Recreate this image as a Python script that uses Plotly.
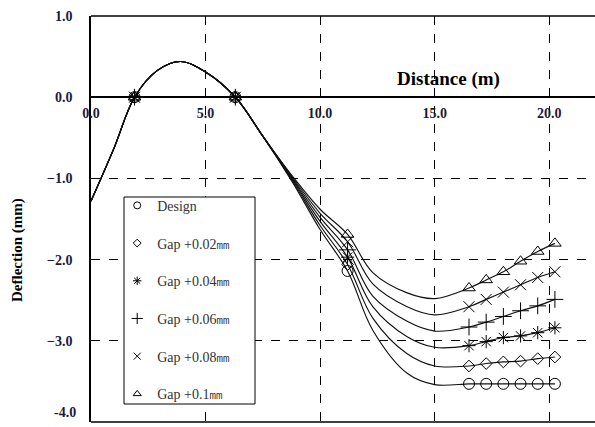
import plotly.graph_objects as go

# ---- data ----
distance = [0, 1.0, 1.9, 2.9, 3.9, 5.0, 6.3, 7.5, 8.8, 10.0, 11.2, 12.3, 13.8, 15.0,
            16.5, 17.25, 18.0, 18.75, 19.5, 20.25]
common = [-1.28, -0.63, 0.0, 0.33, 0.44, 0.31, 0.0, -0.48]

series_names = ["Design", "Gap +0.02㎜", "Gap +0.04㎜", "Gap +0.06㎜", "Gap +0.08㎜", "Gap +0.1㎜"]
design = common + [-1.05, -1.63, -2.14, -2.87, -3.40, -3.54, -3.53, -3.53, -3.53, -3.53, -3.53, -3.53]
gap_002 = common + [-1.035, -1.58, -2.06, -2.72, -3.16, -3.31, -3.31, -3.28, -3.26, -3.25, -3.22, -3.20]
gap_004 = common + [-1.02, -1.53, -1.97, -2.58, -2.95, -3.08, -3.06, -3.01, -2.96, -2.94, -2.90, -2.84]
gap_006 = common + [-1.005, -1.48, -1.88, -2.45, -2.76, -2.88, -2.83, -2.77, -2.70, -2.63, -2.57, -2.49]
gap_008 = common + [-0.99, -1.43, -1.78, -2.30, -2.58, -2.68, -2.58, -2.49, -2.40, -2.31, -2.22, -2.15]
gap_010 = common + [-0.975, -1.38, -1.69, -2.16, -2.41, -2.48, -2.35, -2.25, -2.15, -2.02, -1.90, -1.80]
series_values = [design, gap_002, gap_004, gap_006, gap_008, gap_010]
marker_index = [2, 6, 10, 14, 15, 16, 17, 18, 19]

x_ticks = [0, 5, 10, 15, 20]
y_ticks = [1, 0, -1, -2, -3, -4]

symbols = ["circle-open", "diamond-open", "asterisk-open", "cross-thin-open", "x-thin-open", "triangle-up-open"]
sizes = [11, 9, 11, 12, 11, 11]
legend_sizes = [7, 6, 7, 8, 7, 7]

fig = go.Figure()
serif = "Liberation Serif, Times New Roman, serif"

for vals in series_values:
    fig.add_trace(go.Scatter(x=distance, y=vals, mode="lines",
                             line=dict(color="#111", width=1.15, shape="spline", smoothing=1.0),
                             showlegend=False, hoverinfo="skip"))
for name, vals, sym, sz in zip(series_names, series_values, symbols, sizes):
    fig.add_trace(go.Scatter(x=[distance[i] for i in marker_index],
                             y=[vals[i] for i in marker_index],
                             mode="markers", name=name, showlegend=False,
                             marker=dict(symbol=sym, size=sz, color="black",
                                         line=dict(color="#222", width=1))))
# legend-only entries (small symbols as in the reference legend)
for name, sym, lsz in zip(series_names, symbols, legend_sizes):
    fig.add_trace(go.Scatter(x=[None], y=[None], mode="markers", name=name, legendgroup=name,
                             marker=dict(symbol=sym, size=lsz, color="black",
                                         line=dict(color="#333", width=1))))

fig.update_layout(
    width=595, height=427,
    margin=dict(l=91, r=0, t=16, b=5),
    paper_bgcolor="white", plot_bgcolor="white",
    font=dict(family=serif, color="black"),
    xaxis=dict(range=[0, 22], tickvals=x_ticks, tickformat=".1f",
               showgrid=True, gridcolor="black", gridwidth=1, griddash="dash",
               zeroline=False, showline=True, linecolor="black", linewidth=1.5,
               anchor="free", position=0.8, ticks="", ticklabelstandoff=3,
               tickfont=dict(family=serif, size=14, color="#1a1a3a", weight="bold")),
    yaxis=dict(range=[-4, 1], tickvals=y_ticks[:-1], tickformat=".1f",
               showgrid=True, gridcolor="black", gridwidth=1, griddash="dash",
               zeroline=False, showline=True, linecolor="black", linewidth=1.5,
               ticks="", ticklabelstandoff=14,
               tickfont=dict(family=serif, size=14, color="#1a1a3a", weight="bold")),
    legend=dict(x=0.052, y=0.572, xanchor="left", yanchor="top",
                bgcolor="rgba(0,0,0,0)", borderwidth=0,
                tracegroupgap=16.5, itemwidth=30,
                font=dict(family=serif, size=14, color="#333")),
    showlegend=True,
)

# frame lines and legend box
fig.add_shape(type="line", xref="paper", yref="paper", x0=0, x1=1, y0=1, y1=1,
              line=dict(color="black", width=1.5))
fig.add_shape(type="line", xref="paper", yref="paper", x0=0, x1=1, y0=0, y1=0,
              line=dict(color="black", width=1.5))
fig.add_shape(type="rect", xref="paper", yref="paper",
              x0=(124 - 91) / 504, x1=(255 - 91) / 504,
              y0=(422 - 404) / 406, y1=(422 - 197) / 406,
              line=dict(color="black", width=1), fillcolor="white", layer="above")

fig.add_annotation(text="Distance (m)", xref="paper", yref="paper",
                   x=(448 - 91) / 504, y=(422 - 79) / 406, showarrow=False,
                   xanchor="center", yanchor="middle",
                   font=dict(family=serif, size=19, color="black", weight="bold"))
fig.add_annotation(text="Deflection (mm)", xref="paper", yref="paper",
                   x=(17 - 91) / 504, y=(422 - 250) / 406, showarrow=False, textangle=-90,
                   xanchor="center", yanchor="middle",
                   font=dict(family=serif, size=15, color="black", weight="bold"))
# bottom tick label (kept fully inside the picture)
fig.add_annotation(text="%.1f" % y_ticks[-1], xref="paper", yref="paper",
                   x=(78 - 91) / 504, y=0, xanchor="right", yanchor="bottom", showarrow=False,
                   font=dict(family=serif, size=14, color="#1a1a3a", weight="bold"))

fig.write_html("out.html")
